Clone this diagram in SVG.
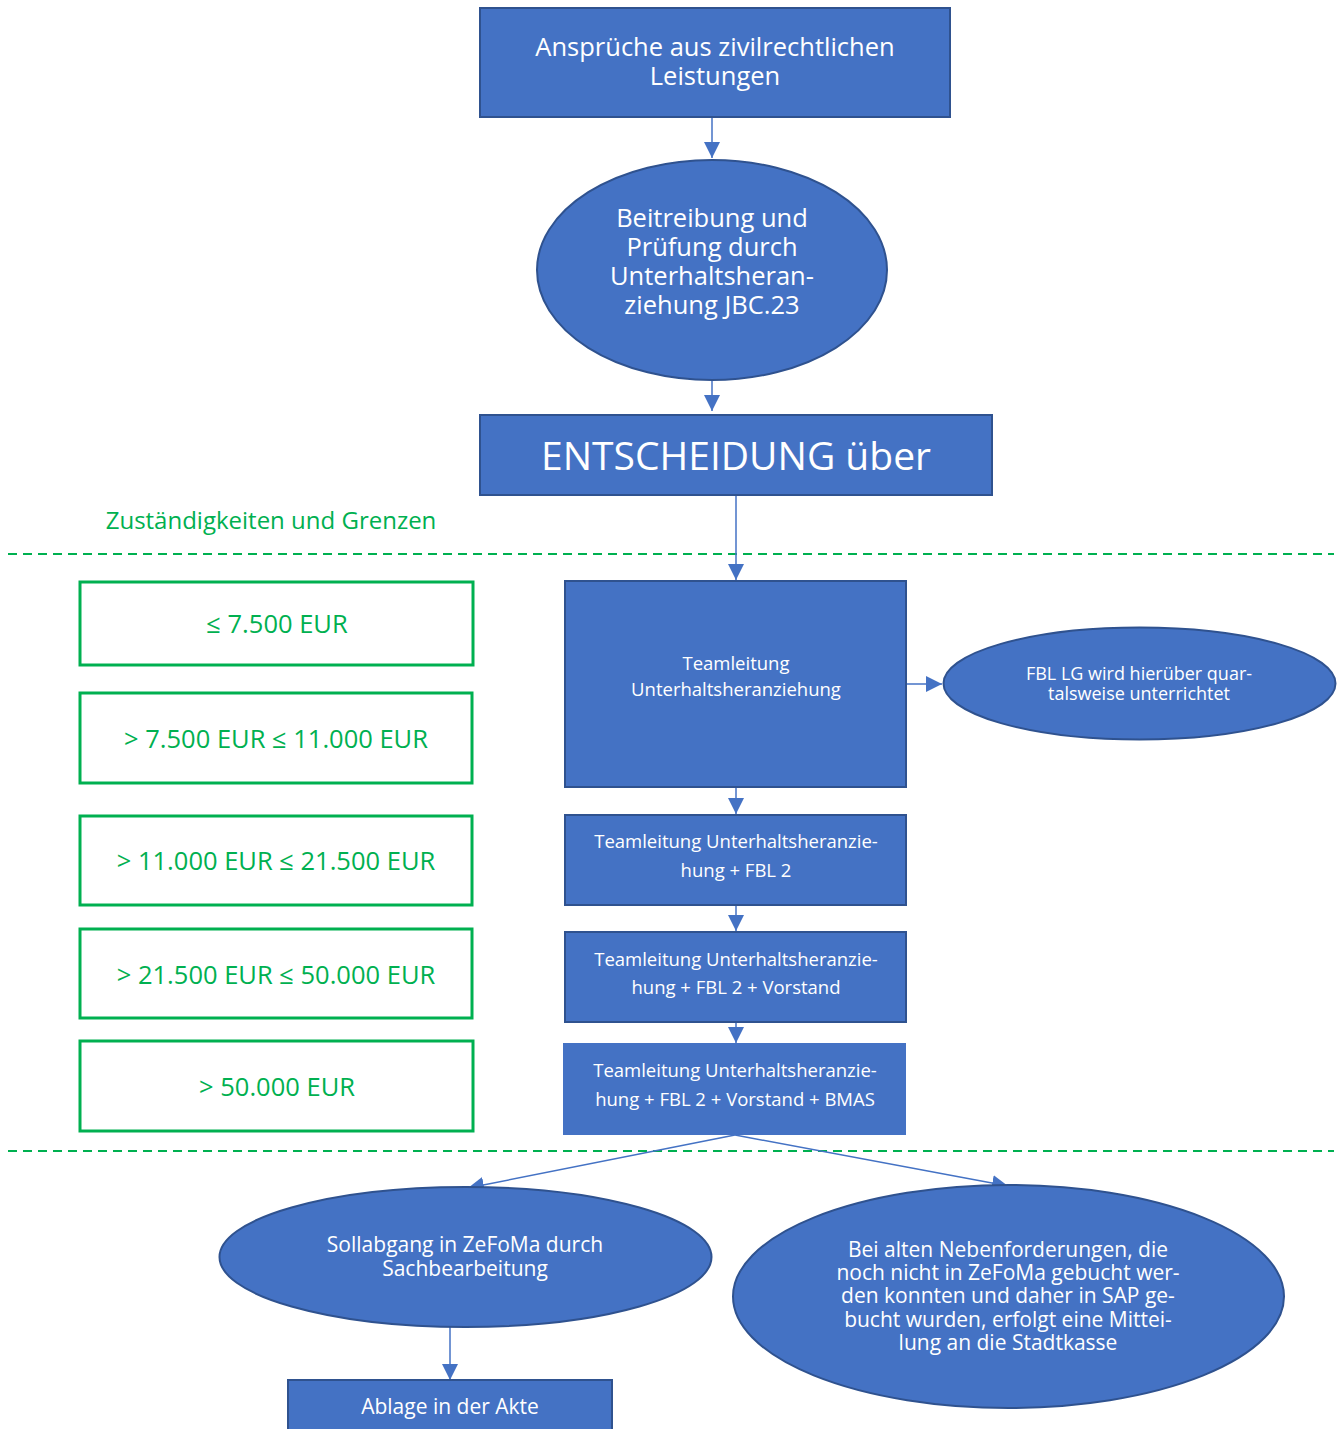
<svg xmlns="http://www.w3.org/2000/svg" width="1344" height="1429" viewBox="0 0 1344 1429">
<style>
.n{fill:#4472C4;stroke:#2F528F;stroke-width:2}
.nn{fill:#4472C4}
.g{fill:#fff;stroke:#00B050;stroke-width:3}
.t{fill:#fff;font-family:"Open Sans",Lato,sans-serif;text-anchor:middle;dominant-baseline:central}
.gt{fill:#00B050;font-family:"Open Sans",Lato,sans-serif;text-anchor:middle;dominant-baseline:central;font-size:25.5px}
.c{stroke:#4472C4;stroke-width:1.5;fill:none;marker-end:url(#a)}
.d{stroke:#00B050;stroke-width:2;stroke-dasharray:9 6;fill:none}
</style>
<defs>
<marker id="a" markerUnits="userSpaceOnUse" markerWidth="16" markerHeight="16" viewBox="0 0 16 16" refX="16" refY="8" orient="auto">
<path d="M0,0 L16,8 L0,16 Z" fill="#4472C4"/>
</marker>
</defs>
<rect width="1344" height="1429" fill="#fff"/>
<g id="dashes">
<line class="d" x1="8" y1="554" x2="1334" y2="554"/>
<line class="d" x1="8" y1="1151" x2="1334" y2="1151"/>
</g>
<text class="gt" x="271" y="519" style="font-size:24px">Zuständigkeiten und Grenzen</text>
<g id="connectors">
<line class="c" x1="712" y1="118" x2="712" y2="158"/>
<line class="c" x1="712" y1="380" x2="712" y2="411"/>
<line class="c" x1="736" y1="495" x2="736" y2="580"/>
<line class="c" x1="906" y1="684" x2="942" y2="684"/>
<line class="c" x1="736" y1="788" x2="736" y2="814"/>
<line class="c" x1="736" y1="906" x2="736" y2="931"/>
<line class="c" x1="736" y1="1023" x2="736" y2="1043"/>
<line class="c" x1="735" y1="1135" x2="468" y2="1188"/>
<line class="c" x1="735" y1="1135" x2="1008" y2="1186"/>
<line class="c" x1="450" y1="1327" x2="450" y2="1380"/>
</g>
<g id="n1"><rect class="n" x="480" y="8" width="470" height="109"/>
<text class="t" x="715" y="46" font-size="25.5">Ansprüche aus zivilrechtlichen</text>
<text class="t" x="715" y="75" font-size="25.5">Leistungen</text></g>
<g id="n2"><ellipse class="n" cx="712" cy="270" rx="175" ry="110"/>
<text class="t" x="712" y="217" font-size="25.5">Beitreibung und</text>
<text class="t" x="712" y="246" font-size="25.5">Prüfung durch</text>
<text class="t" x="712" y="275" font-size="25.5">Unterhaltsheran-</text>
<text class="t" x="712" y="304" font-size="25.5">ziehung JBC.23</text></g>
<g id="n3"><rect class="n" x="480" y="415" width="512" height="80"/>
<text class="t" x="736" y="454" font-size="39">ENTSCHEIDUNG über</text></g>
<g id="g1"><rect class="g" x="80" y="582" width="393" height="83"/><text class="gt" x="277" y="623">≤ 7.500 EUR</text></g>
<g id="g2"><rect class="g" x="80" y="693" width="392" height="90"/><text class="gt" x="276" y="738">&gt; 7.500 EUR ≤ 11.000 EUR</text></g>
<g id="g3"><rect class="g" x="80" y="816" width="392" height="89"/><text class="gt" x="276" y="860">&gt; 11.000 EUR ≤ 21.500 EUR</text></g>
<g id="g4"><rect class="g" x="80" y="929" width="392" height="89"/><text class="gt" x="276" y="974">&gt; 21.500 EUR ≤ 50.000 EUR</text></g>
<g id="g5"><rect class="g" x="80" y="1041" width="393" height="90"/><text class="gt" x="277" y="1086">&gt; 50.000 EUR</text></g>
<g id="n4"><rect class="n" x="565" y="581" width="341" height="206"/>
<text class="t" x="736" y="662" font-size="18.5">Teamleitung</text>
<text class="t" x="736" y="688" font-size="18.5">Unterhaltsheranziehung</text></g>
<g id="n5"><ellipse class="n" cx="1139.5" cy="683.5" rx="196" ry="56"/>
<text class="t" x="1139" y="673" font-size="18">FBL LG wird hierüber quar-</text>
<text class="t" x="1139" y="693" font-size="18">talsweise unterrichtet</text></g>
<g id="n6"><rect class="n" x="565" y="815" width="341" height="90"/>
<text class="t" x="736" y="840" font-size="18.5">Teamleitung Unterhaltsheranzie-</text>
<text class="t" x="736" y="869" font-size="18.5">hung + FBL 2</text></g>
<g id="n7"><rect class="n" x="565" y="932" width="341" height="90"/>
<text class="t" x="736" y="958" font-size="18.5">Teamleitung Unterhaltsheranzie-</text>
<text class="t" x="736" y="986" font-size="18.5">hung + FBL 2 + Vorstand</text></g>
<g id="n8"><rect class="nn" x="563" y="1043" width="343" height="92"/>
<text class="t" x="735" y="1069" font-size="18.5">Teamleitung Unterhaltsheranzie-</text>
<text class="t" x="735" y="1098" font-size="18.5">hung + FBL 2 + Vorstand + BMAS</text></g>
<g id="n9"><ellipse class="n" cx="465.5" cy="1257" rx="246" ry="70"/>
<text class="t" x="465" y="1244" font-size="21">Sollabgang in ZeFoMa durch</text>
<text class="t" x="465" y="1268" font-size="21">Sachbearbeitung</text></g>
<g id="n10"><ellipse class="n" cx="1008.5" cy="1296.5" rx="275.5" ry="111.5"/>
<text class="t" x="1008" y="1249" font-size="21">Bei alten Nebenforderungen, die</text>
<text class="t" x="1008" y="1272" font-size="21">noch nicht in ZeFoMa gebucht wer-</text>
<text class="t" x="1008" y="1295" font-size="21">den konnten und  daher in SAP ge-</text>
<text class="t" x="1008" y="1319" font-size="21">bucht wurden, erfolgt eine Mittei-</text>
<text class="t" x="1008" y="1342" font-size="21">lung an die Stadtkasse</text></g>
<g id="n11"><rect class="n" x="288" y="1380" width="324" height="60"/>
<text class="t" x="450" y="1406" font-size="21">Ablage in der Akte</text></g>
</svg>
